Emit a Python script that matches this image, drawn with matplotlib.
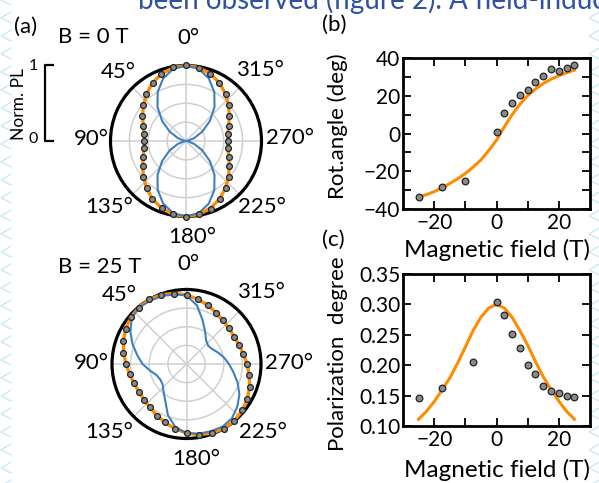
import numpy as np
import matplotlib
matplotlib.use("Agg")
import matplotlib.pyplot as plt
from matplotlib.lines import Line2D

plt.rcParams['font.family'] = ['Lato', 'DejaVu Sans']
plt.rcParams['axes.unicode_minus'] = True

W, H = 599, 483
ORANGE = '#ff8c00'
BLUE = '#3f7fbf'
DOT = '#8a8a8a'
TEXT_BLUE = '#2f51a3'

# polarisation angle of the detector (deg)
angles = np.arange(0, 360, 10)

# B = 0 T: measured PL, fit and pure dipole pattern
pl_0T = [1.00, 0.99, 0.95, 0.885, 0.82, 0.735, 0.67, 0.60, 0.57, 0.55, 0.565, 0.605,
         0.66, 0.74, 0.81, 0.89, 0.945, 0.985, 1.00, 0.985, 0.955, 0.89, 0.815, 0.74,
         0.665, 0.605, 0.56, 0.55, 0.565, 0.60, 0.665, 0.735, 0.82, 0.885, 0.945, 0.985]
fit_0T = [1.00, 0.987, 0.947, 0.888, 0.814, 0.736, 0.663, 0.603, 0.564, 0.55, 0.564, 0.603,
          0.663, 0.736, 0.814, 0.888, 0.947, 0.987, 1.00, 0.987, 0.947, 0.888, 0.814, 0.736,
          0.663, 0.603, 0.564, 0.55, 0.564, 0.603, 0.663, 0.736, 0.814, 0.888, 0.947, 0.987]
dipole_0T = [1.0, 0.970, 0.883, 0.750, 0.587, 0.413, 0.250, 0.117, 0.030, 0.0, 0.030, 0.117,
             0.250, 0.413, 0.587, 0.750, 0.883, 0.970, 1.0, 0.970, 0.883, 0.750, 0.587, 0.413,
             0.250, 0.117, 0.030, 0.0, 0.030, 0.117, 0.250, 0.413, 0.587, 0.750, 0.883, 0.970]

# B = 25 T
pl_25T = [0.93, 0.96, 0.99, 1.00, 0.99, 0.975, 0.945, 0.90, 0.86, 0.815, 0.775, 0.755,
          0.74, 0.745, 0.76, 0.80, 0.835, 0.885, 0.925, 0.965, 0.985, 1.00, 0.995, 0.97,
          0.94, 0.905, 0.855, 0.81, 0.775, 0.745, 0.735, 0.745, 0.77, 0.795, 0.84, 0.88]
fit_25T = [0.927, 0.963, 0.989, 1.00, 0.995, 0.975, 0.943, 0.901, 0.856, 0.813, 0.776, 0.750,
           0.739, 0.744, 0.764, 0.797, 0.838, 0.883, 0.927, 0.963, 0.989, 1.00, 0.995, 0.975,
           0.943, 0.901, 0.856, 0.813, 0.776, 0.750, 0.739, 0.744, 0.764, 0.797, 0.838, 0.883]
dipole_25T = [0.92, 0.95, 0.97, 0.98, 0.99, 0.96, 0.87, 0.77, 0.67, 0.59, 0.50, 0.43,
              0.41, 0.42, 0.48, 0.57, 0.73, 0.86, 0.93, 0.95, 0.96, 0.97, 0.95, 0.89,
              0.82, 0.73, 0.64, 0.57, 0.51, 0.45, 0.40, 0.38, 0.41, 0.50, 0.63, 0.80]

# (b) rotation angle vs field
field = [-25, -17.5, -10, 0, 2.5, 5, 7.5, 10, 12.5, 15, 17.5, 20, 22.5, 25]
rot_angle = [-33.9, -28.6, -25.2, 0.9, 10.6, 16.2, 20.3, 22.9, 27.1, 30.3, 34.2, 33.3, 34.7, 36.5]
fit_field = [-25, -22.5, -20, -17.5, -15, -12.5, -10, -7.5, -5, -2.5, 0,
             2.5, 5, 7.5, 10, 12.5, 15, 17.5, 20, 22.5, 25]
rot_fit = [-33.8, -32.4, -30.8, -28.8, -26.5, -24.0, -21.2, -17.8, -14.0, -9.0, -3.5,
           3.5, 10.0, 15.5, 20.0, 23.6, 26.5, 28.8, 30.6, 32.2, 33.6]

# (c) polarization degree vs field
field_pol = [-25, -17.5, -7.5, 0, 2.5, 5, 7.5, 10, 12.5, 15, 17.5, 20, 22.5, 25]
pol_degree = [0.146, 0.163, 0.205, 0.304, 0.282, 0.252, 0.228, 0.200, 0.185, 0.165,
              0.158, 0.154, 0.150, 0.147]
pol_fit = [0.111, 0.124, 0.140, 0.159, 0.179, 0.203, 0.230, 0.257, 0.279, 0.294, 0.300,
           0.294, 0.279, 0.257, 0.233, 0.206, 0.181, 0.160, 0.141, 0.124, 0.111]

theta_ticks = [0, 45, 90, 135, 180, 225, 270, 315]


def fx(x):
	return x / W


def fy(y):
	return 1 - y / H


fig = plt.figure(figsize=(W / 100, H / 100), dpi=100)

# faint chevron pattern in the page margins
for y0 in range(-6, H, 18):
	for x0 in (1, 589):
		fig.add_artist(Line2D([fx(x0 + 10), fx(x0), fx(x0 + 10)], [fy(y0), fy(y0 + 6), fy(y0 + 11)],
		                      color='#bfe4f2', lw=0.8, zorder=0))

# running text of the page, cut by the top edge
fig.text(fx(138), fy(9), 'been observed (figure 2). A field-induced', color=TEXT_BLUE,
         fontsize=20, va='baseline', ha='left')


def close(v):
	return np.append(v, v[0])


def polar_panel(rect, pl, fit, dipole, lab_pos):
	ax = fig.add_axes(rect, projection='polar')
	ax.set_theta_zero_location('N')
	th = np.deg2rad(np.append(angles, 360))
	ax.plot(th, close(fit), color=ORANGE, lw=2.4, zorder=3, clip_on=False)
	ax.plot(th, close(dipole), color=BLUE, lw=1.5, zorder=4, clip_on=False)
	ax.plot(np.deg2rad(angles), pl, 'o', ms=4.2, mfc=DOT, mec='#222222', mew=0.9,
	        zorder=5, clip_on=False)
	ax.set_ylim(0, 1)
	ax.set_yticks([0.25, 0.5, 0.75])
	ax.set_yticklabels([])
	ax.set_xticks(np.deg2rad(theta_ticks))
	ax.set_xticklabels([])
	ax.grid(color='#d0d0d0', lw=1.1)
	ax.spines['polar'].set_linewidth(2.3)
	ax.tick_params(length=0)
	for a, (x, y) in zip(theta_ticks, lab_pos):
		ax.text(x, y, f'{a}°', transform=ax.transAxes, ha='center', va='center', fontsize=16)
	return ax


polar_panel([fx(110.5), fy(216.5), 151 / W, 151 / H], pl_0T, fit_0T, dipole_0T,
            [(0.513, 1.185), (0.05, 0.957), (-0.126, 0.51), (-0.01, 0.063),
             (0.54, -0.136), (1.003, 0.063), (1.189, 0.517), (0.99, 0.97)])
polar_panel([fx(112), fy(438.5), 149 / W, 149 / H], pl_25T, fit_25T, dipole_25T,
            [(0.51, 1.171), (0.05, 0.963), (-0.138, 0.51), (-0.02, 0.044),
             (0.567, -0.138), (1.01, 0.044), (1.19, 0.51), (1.003, 0.98)])


def field_panel(rect):
	ax = fig.add_axes(rect)
	ax.set_xlim(-30, 30)
	ax.set_xticks([-20, 0, 20])
	ax.set_xticks([-10, 10], minor=True)
	ax.tick_params(which='both', direction='in', top=True, right=True, length=6, width=1.3,
	               labelsize=15)
	ax.tick_params(axis='x', pad=3)
	ax.tick_params(axis='y', pad=2)
	for s in ax.spines.values():
		s.set_linewidth(2.0)
	ax.set_xlabel('Magnetic field (T)', fontsize=17.5)
	return ax


axb = field_panel([fx(403), fy(209), 187 / W, 151 / H])
axb.plot(fit_field, rot_fit, color=ORANGE, lw=2.2, zorder=3)
axb.plot(field, rot_angle, 'o', ms=4.8, mfc=DOT, mec='#222222', mew=0.9, zorder=4)
axb.set_ylim(-40, 40)
axb.set_yticks([-40, -20, 0, 20, 40])
axb.set_yticks([-30, -10, 10, 30], minor=True)
axb.set_ylabel('Rot.angle (deg)', fontsize=16)
axb.yaxis.set_label_coords(-0.294, 0.55)
axb.xaxis.set_label_coords(0.505, -0.2)

axc = field_panel([fx(403), fy(426), 187 / W, 152 / H])
axc.plot(fit_field, pol_fit, color=ORANGE, lw=2.2, zorder=3)
axc.plot(field_pol, pol_degree, 'o', ms=4.8, mfc=DOT, mec='#222222', mew=0.9, zorder=4)
axc.set_ylim(0.10, 0.35)
axc.set_yticks([0.10, 0.15, 0.20, 0.25, 0.30, 0.35])
axc.set_yticklabels(['0.10', '0.15', '0.20', '0.25', '0.30', '0.35'])
axc.set_ylabel('Polarization  degree', fontsize=16)
axc.yaxis.set_label_coords(-0.294, 0.477)
axc.xaxis.set_label_coords(0.505, -0.217)

# panel letters and field labels
fig.text(fx(26), fy(27), '(a)', fontsize=16, ha='center', va='center')
fig.text(fx(334), fy(25), '(b)', fontsize=16, ha='center', va='center')
fig.text(fx(333), fy(240), '(c)', fontsize=16, ha='center', va='center')
fig.text(fx(58), fy(43), 'B = 0 T', fontsize=16, ha='left', va='baseline')
fig.text(fx(58), fy(273), 'B = 25 T', fontsize=16, ha='left', va='baseline')

# normalised PL scale bar
fig.add_artist(Line2D([fx(53), fx(45), fx(45), fx(53)], [fy(65), fy(65), fy(141), fy(141)],
                      color='black', lw=1.6))
fig.text(fx(19.5), fy(104), 'Norm. PL', rotation=90, fontsize=12.5, ha='center', va='center')
fig.text(fx(33), fy(66), '1', fontsize=11.5, ha='center', va='center')
fig.text(fx(33), fy(139), '0', fontsize=11.5, ha='center', va='center')

fig.savefig('out.png', dpi=100)
